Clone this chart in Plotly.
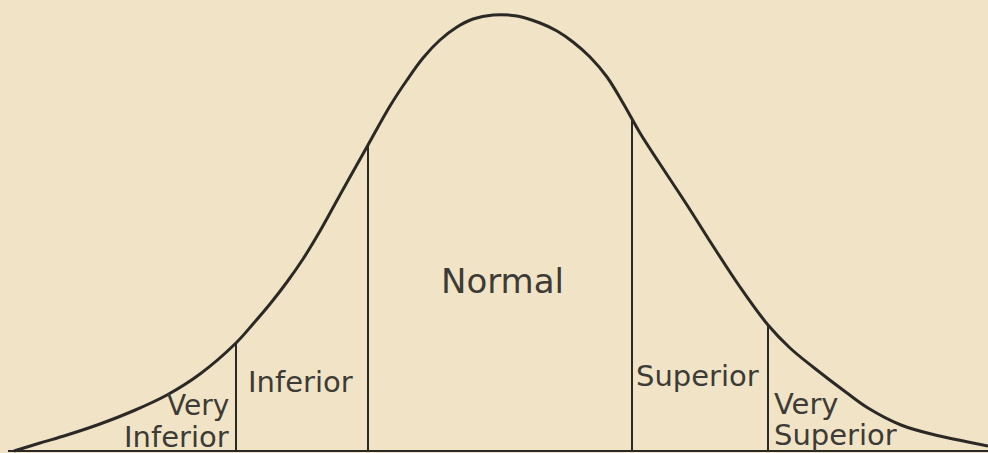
import plotly.graph_objects as go

# Curve: x position and height above the baseline
curve_x = [14, 40, 67, 100, 133, 167, 200, 236, 253, 270, 287, 303, 320, 335, 350,
           368, 390, 407, 423, 440, 457, 473, 493, 517, 540, 557, 573, 590, 607,
           623, 640, 660, 687, 713, 740, 768, 790, 813, 847, 868, 901, 935, 968, 988]
curve_y = [0, 8, 16, 27, 40, 56, 77, 108, 127, 147, 169, 192, 220, 247, 274,
           306, 345, 371, 393, 411, 424, 432, 436, 435, 428, 420, 409, 394, 374,
           348, 318, 287, 246, 205, 164, 126, 103, 84, 58, 43, 26, 16, 9, 5]

# Division lines (x positions and their heights where they meet the curve)
div_x = [236, 368, 632, 768]
div_h = [108, 306, 331, 126]

# Labels
labels = ["Normal", "Inferior", "Very", "Inferior", "Superior", "Very", "Superior"]
label_x = [502, 300, 231, 231, 634, 772, 772]
label_y = [170, 69, 46, 14, 75, 47, 16]
label_anchor = ["center", "center", "right", "right", "left", "left", "left"]
label_size = [34, 29, 28, 29, 29, 29, 29]

base_x = [8, 988]
base_y = [0, 0]

LINE = "#2b2925"
TEXT = "#3d3b36"
BG = "#F1E4C6"

fig = go.Figure()

fig.add_trace(go.Scatter(x=base_x, y=base_y, mode="lines",
                         line=dict(color=LINE, width=2.2), hoverinfo="skip"))

vx, vy = [], []
for x, h in zip(div_x, div_h):
    vx += [x, x, None]
    vy += [0, h, None]
fig.add_trace(go.Scatter(x=vx, y=vy, mode="lines",
                         line=dict(color=LINE, width=2), hoverinfo="skip"))

fig.add_trace(go.Scatter(x=curve_x, y=curve_y, mode="lines",
                         line=dict(color=LINE, width=3, shape="spline", smoothing=1.0),
                         hoverinfo="skip"))

for t, x, y, a, s in zip(labels, label_x, label_y, label_anchor, label_size):
    fig.add_annotation(x=x, y=y, text=t, showarrow=False, xanchor=a, yanchor="middle",
                       font=dict(family="DejaVu Sans", size=s, color=TEXT))

fig.update_layout(
    width=988, height=453,
    margin=dict(l=0, r=0, t=0, b=0),
    paper_bgcolor=BG, plot_bgcolor=BG,
    showlegend=False, hovermode=False,
    xaxis=dict(range=[0, 988], visible=False, fixedrange=True),
    yaxis=dict(range=[-2, 451], visible=False, fixedrange=True),
)

fig.write_html(
    "out.html",
    config={"displayModeBar": False},
    post_script="document.body.style.margin='0';document.body.style.padding='0';"
                "document.body.style.overflow='hidden';"
                "document.documentElement.style.overflow='hidden';"
                "document.body.style.background='" + BG + "';",
)
